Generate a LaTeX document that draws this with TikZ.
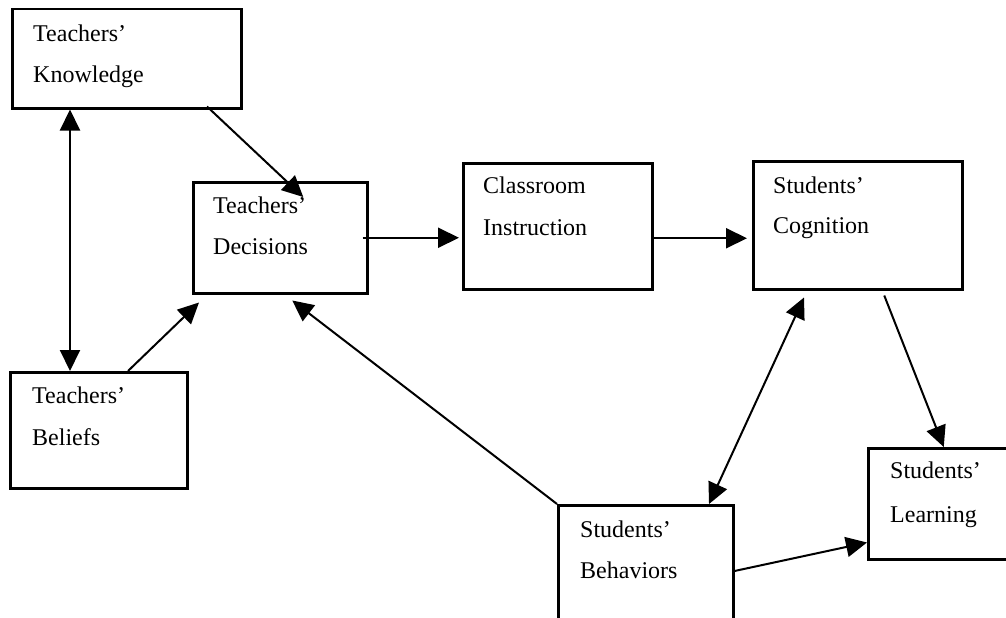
\documentclass[tikz,border=0pt]{standalone}
\usepackage{fontspec}
\setmainfont{Liberation Serif}
\usetikzlibrary{arrows.meta,calc}

\tikzset{
  box/.style={draw, line width=2.5pt, rectangle, anchor=north west, inner sep=0pt},
  txt/.style={anchor=base west, inner sep=0pt, font=\fontsize{24}{28}\selectfont},
  tip/.style={Triangle[length=21pt,width=20pt]},
  link/.style={line width=2pt, -{Triangle[length=21pt,width=20pt]}},
  twoway/.style={line width=2pt, {Triangle[length=21pt,width=20pt]}-{Triangle[length=21pt,width=20pt]}},
}

\begin{document}
\begin{tikzpicture}[x=1pt, y=-1pt]
\clip (0,0) rectangle (1006,618);
\fill[white] (0,0) rectangle (1006,618);

% boxes
\node[box, minimum width=229pt, minimum height=99pt]  (know)  at (11,8)    {};
\node[box, minimum width=174pt, minimum height=111pt] (dec)   at (192,181) {};
\node[box, minimum width=189pt, minimum height=126pt] (cls)   at (462,162) {};
\node[box, minimum width=209pt, minimum height=128pt] (cog)   at (752,160) {};
\node[box, minimum width=177pt, minimum height=116pt] (bel)   at (9,371)   {};
\node[box, minimum width=145pt, minimum height=111pt] (learn) at (867,447) {};
\node[box, minimum width=175pt, minimum height=130pt] (beh)   at (557,504) {};

% labels
\node[txt] (know-a)  at ($(know.north west)+(22,34)$)  {Teachers’};
\node[txt] (know-b)  at ($(know.north west)+(22,74)$)  {Knowledge};
\node[txt] (dec-a)   at ($(dec.north west)+(21,32)$)   {Teachers’};
\node[txt] (dec-b)   at ($(dec.north west)+(21,73)$)   {Decisions};
\node[txt] (cls-a)   at ($(cls.north west)+(21,31)$)   {Classroom};
\node[txt] (cls-b)   at ($(cls.north west)+(21,73)$)   {Instruction};
\node[txt] (cog-a)   at ($(cog.north west)+(21,33)$)   {Students’};
\node[txt] (cog-b)   at ($(cog.north west)+(21,73)$)   {Cognition};
\node[txt] (bel-a)   at ($(bel.north west)+(23,32)$)   {Teachers’};
\node[txt] (bel-b)   at ($(bel.north west)+(23,74)$)   {Beliefs};
\node[txt] (learn-a) at ($(learn.north west)+(23,31)$) {Students’};
\node[txt] (learn-b) at ($(learn.north west)+(23,75)$) {Learning};
\node[txt] (beh-a)   at ($(beh.north west)+(23,33)$)   {Students’};
\node[txt] (beh-b)   at ($(beh.north west)+(23,74)$)   {Behaviors};

% connectors
\coordinate (kb) at ([xshift=59pt]know.south west);
\draw[twoway] (kb) -- (kb |- bel.north);
\draw[link] ([xshift=196pt,yshift=3pt]know.south west) -- ([xshift=23pt,yshift=-16pt]dec.north);
\draw[link] ([xshift=119pt]bel.north west) -- ([xshift=7pt,yshift=-8pt]dec.south west);
\draw[link] ([xshift=-6pt]dec.east) -- ([xshift=-3pt]dec.east -| cls.west);
\coordinate (ce) at ([yshift=-12pt]cls.east);
\draw[link] (ce) -- ([xshift=-5pt]ce -| cog.west);
\draw[link] ([xshift=26.5pt,yshift=-5pt]cog.south) -- ([xshift=3pt]learn.north);
\draw[twoway] ([xshift=52pt,yshift=-7pt]cog.south west) -- ([xshift=152pt]beh.north west);
\draw[link] (beh.north west) -- ([xshift=12pt,yshift=-6pt]dec.south);
\draw[link] ([yshift=-67pt]beh.north east) -- ([yshift=18pt]learn.south west);
\end{tikzpicture}
\end{document}
